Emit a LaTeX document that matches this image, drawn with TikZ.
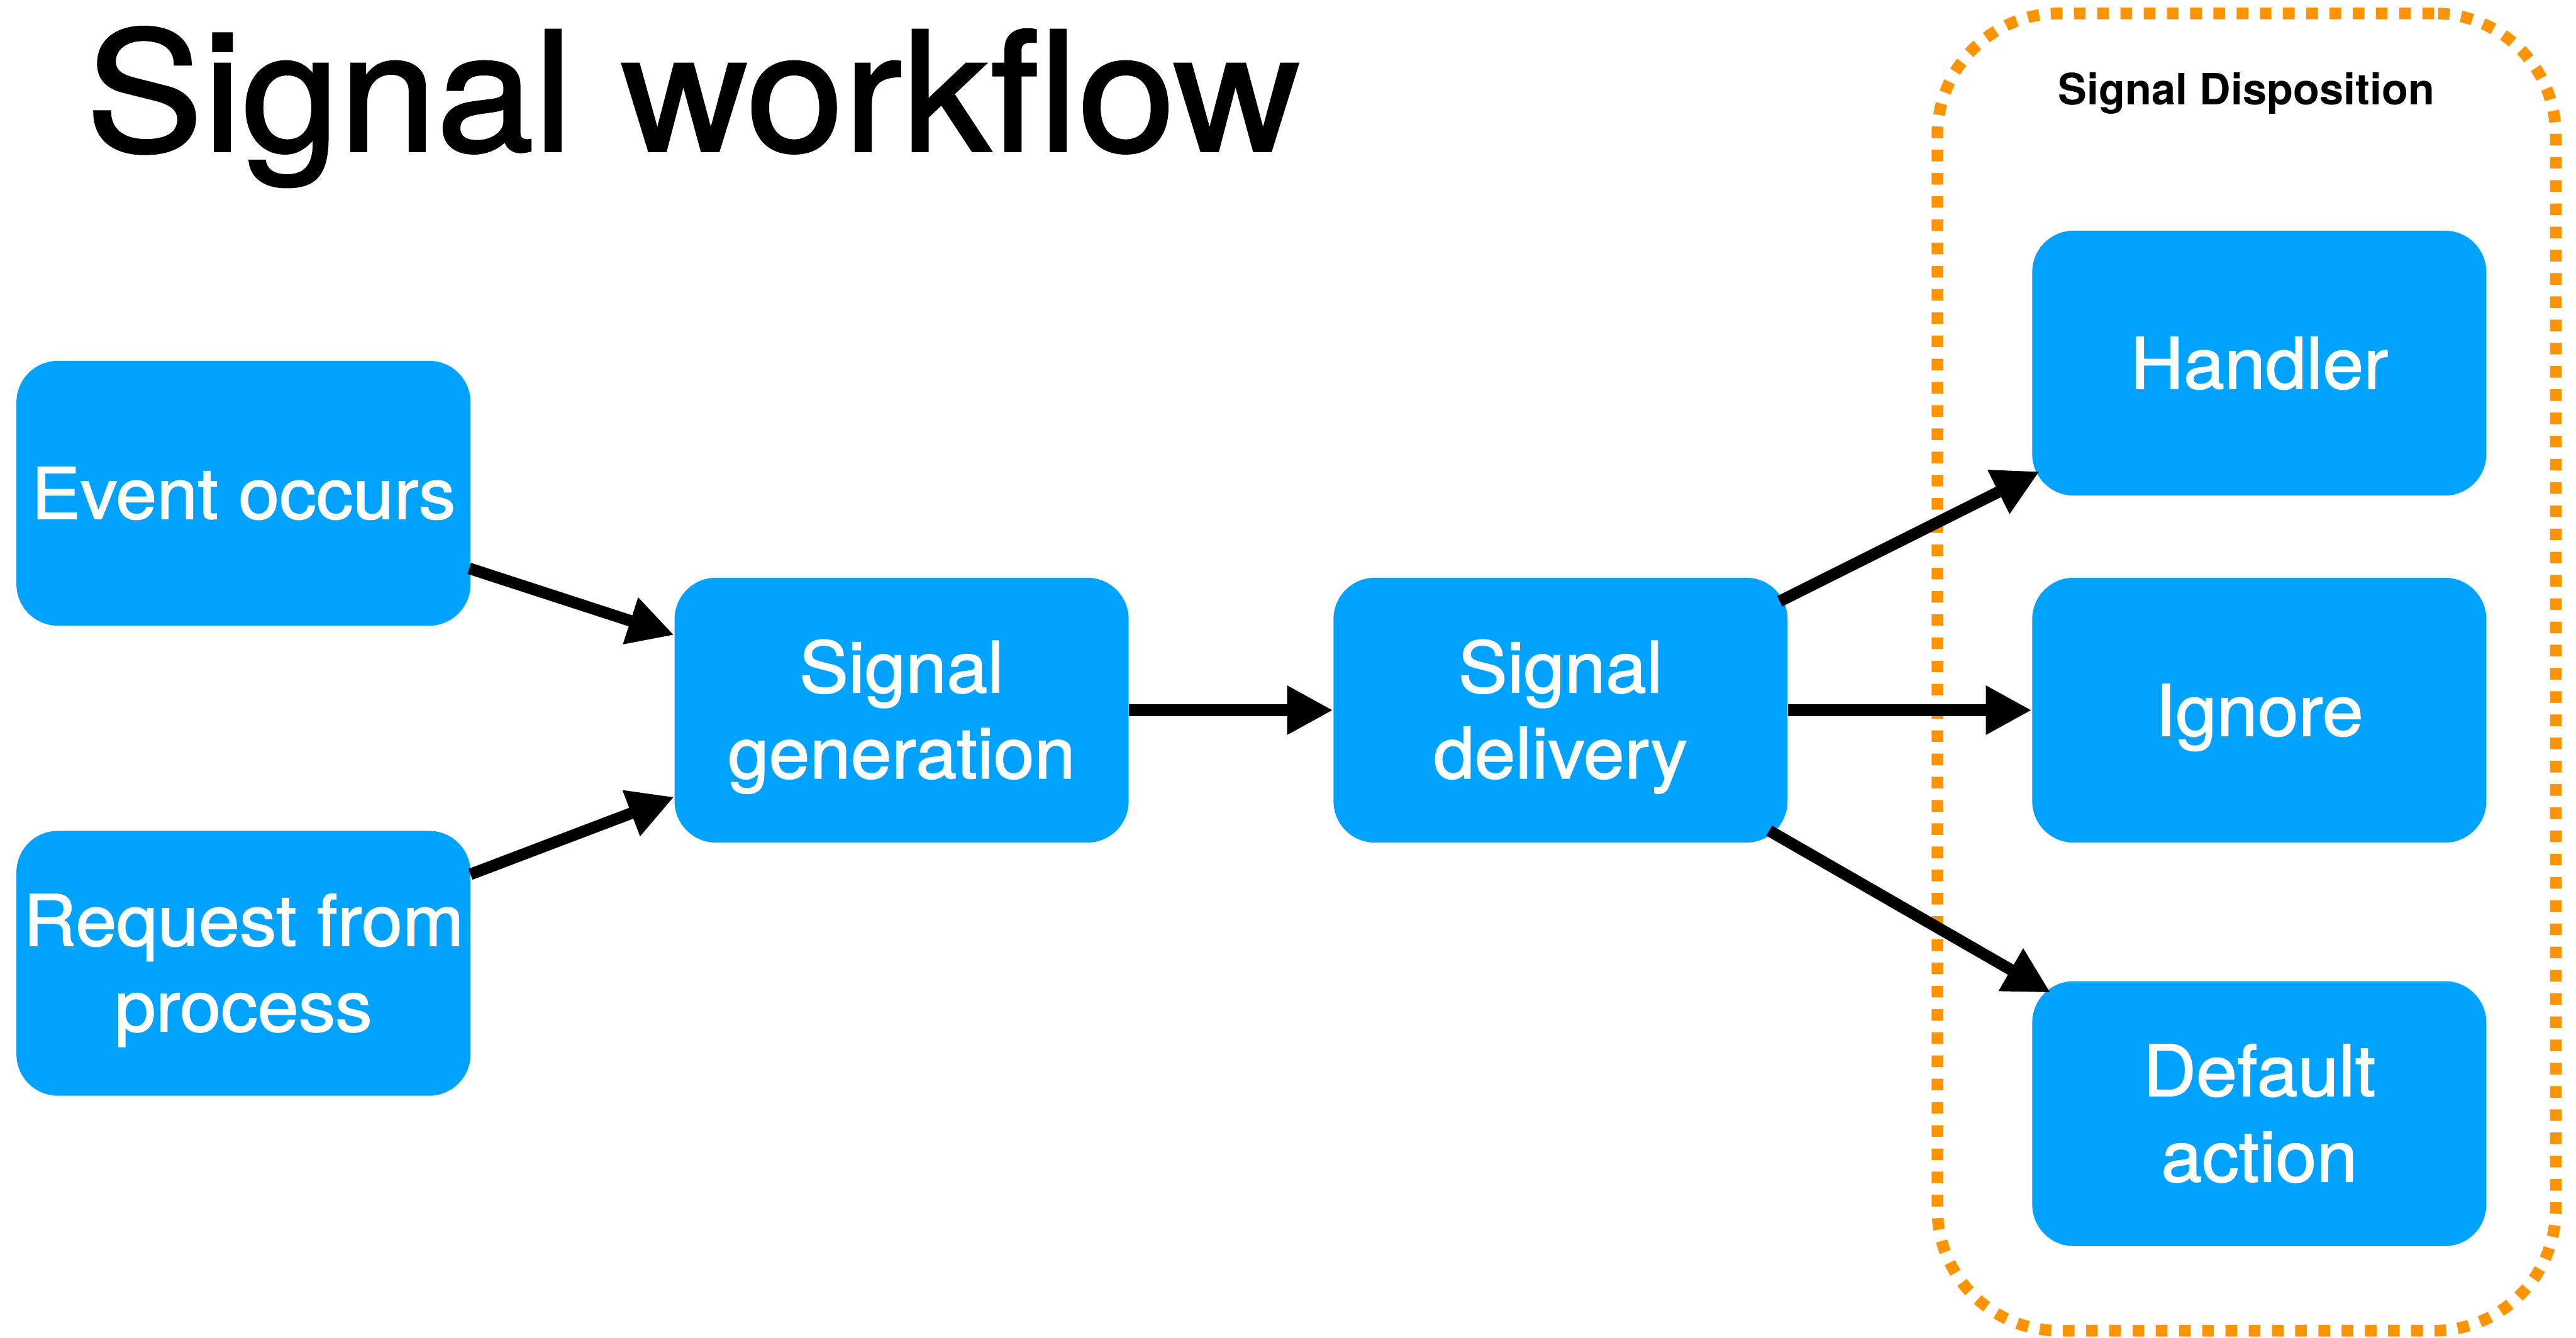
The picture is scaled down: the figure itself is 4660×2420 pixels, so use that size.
\documentclass[tikz,border=0pt]{standalone}
\usepackage{fontspec}
\setmainfont{TeX Gyre Heros}
\newfontfamily\boxfont{TeX Gyre Heros}[FakeStretch=1.04,FakeBold=1.5]
\newfontfamily\titlefont{TeX Gyre Heros}[FakeStretch=1.055,FakeBold=1.5]
\usetikzlibrary{arrows.meta,calc}
\definecolor{kblue}{HTML}{00A2FF}
\definecolor{korange}{HTML}{FF9300}
\newcommand\twol[2]{\begin{tabular}[t]{@{}c@{}}#1\\#2\end{tabular}}
\begin{document}
\begin{tikzpicture}[x=0.01cm,y=-0.01cm,
  box/.style={rectangle, rounded corners=0.75cm, fill=kblue, minimum width=8.21cm,
    minimum height=4.79cm, inner sep=0pt, text=white,
    font=\boxfont\fontsize{36.4pt}{44.1pt}\selectfont, text height=0.92cm, text depth=0pt},
  twobox/.style={box, text depth=1.56cm},
  arr/.style={line width=0.21cm, -{Triangle[length=0.83cm,width=0.83cm]}},
  dispbox/.style={draw=korange, line width=0.21cm, dash pattern=on 0.21cm off 0.21cm,
    rounded corners=2.2cm, inner sep=0pt},
]
\useasboundingbox[fill=white] (0,0) rectangle (4660,2420);

\node[dispbox, minimum width=11.18cm, minimum height=23.82cm] (disp) at (4064,1216) {};
\node[font=\bfseries\fontsize{22.2pt}{26pt}\selectfont, anchor=base, inner sep=0pt] (dtitle) at (4064,189) {Signal Disposition};

\node[font=\titlefont\fontsize{85.4pt}{100pt}\selectfont, anchor=base west, inner sep=0pt] (title) at (155,273) {Signal workflow};

\node[box] (ev) at (440.5,892.5) {Event occurs};
\node[twobox] (rq) at (440.5,1743) {\twol{Request from}{process}};
\node[twobox] (gen) at (1631,1285) {\twol{Signal}{generation}};
\node[twobox] (del) at (2823,1285) {\twol{Signal}{delivery}};
\node[box] (hd) at (4087,657) {Handler};
\node[box] (ig) at (4087,1285) {Ignore};
\node[twobox] (da) at (4087,2015) {\twol{Default}{action}};

\draw[arr] ($(ev.east)+(-3,136)$) -- ($(gen.west)+(0,-136)$);
\draw[arr] ($(rq.east)+(-1,-161)$) -- ($(gen.west)+(0,157)$);
\draw[arr] (gen.east) -- (del.west);
\draw[arr] ($(del.east)+(-15,-197)$) -- ($(hd.west)+(14,196)$);
\draw[arr] (del.east) -- (ig.west);
\draw[arr] ($(del.east)+(-34,218)$) -- ($(da.west)+(34,-219)$);
\end{tikzpicture}
\end{document}
